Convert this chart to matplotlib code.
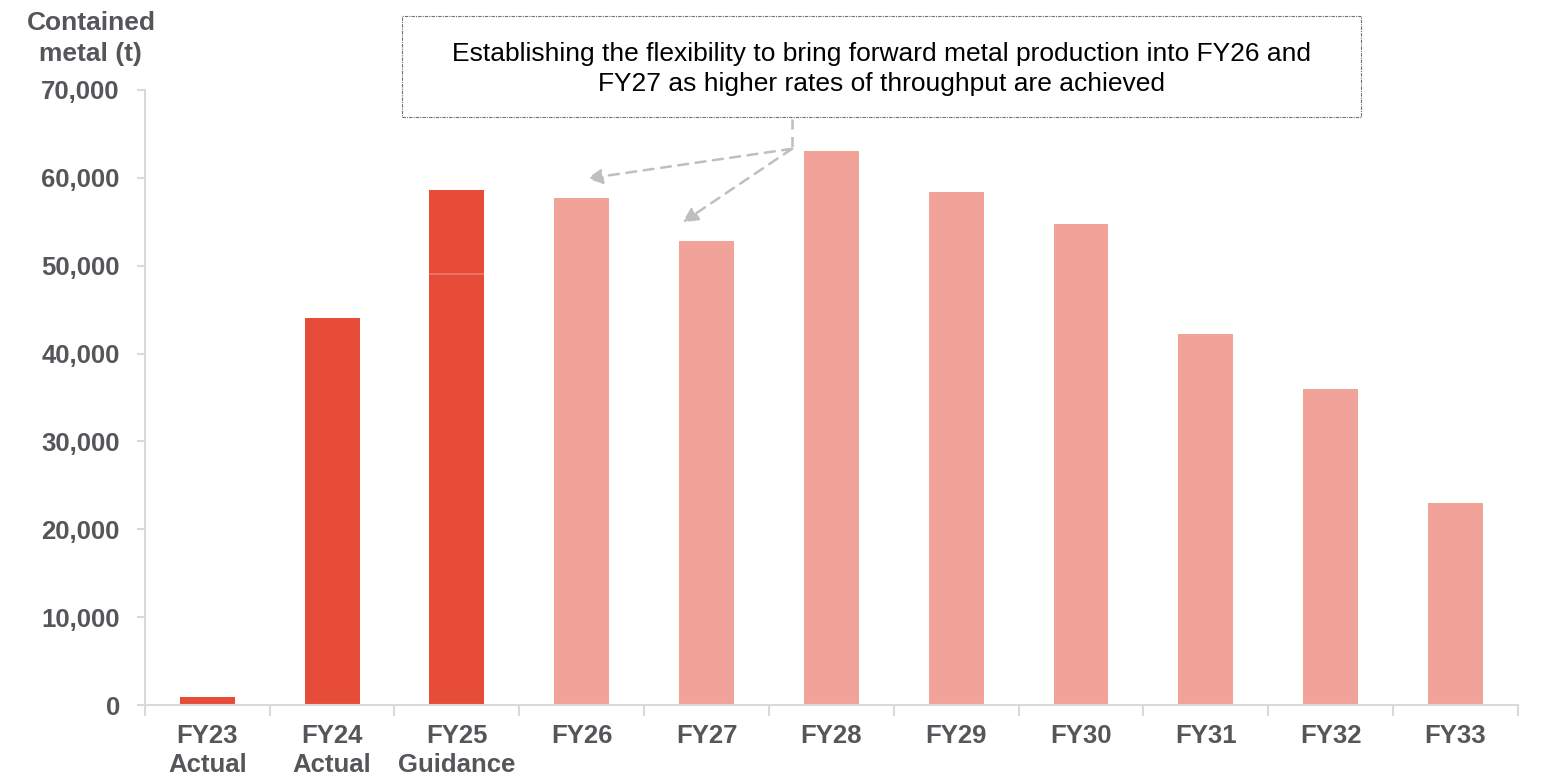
import matplotlib.pyplot as plt
from matplotlib.patches import FancyBboxPatch

plt.rcParams['font.family'] = ['Liberation Sans', 'DejaVu Sans']

years = ["FY23\nActual", "FY24\nActual", "FY25\nGuidance", "FY26", "FY27", "FY28",
         "FY29", "FY30", "FY31", "FY32", "FY33"]
actual = [900, 44000, 49000, 0, 0, 0, 0, 0, 0, 0, 0]
guidance_upside = [0, 0, 9600, 0, 0, 0, 0, 0, 0, 0, 0]
plan = [0, 0, 0, 57700, 52800, 63000, 58400, 54800, 42200, 36000, 23000]

dark_red = "#E64C38"
light_red = "#F2A399"
grey_text = "#55565A"
axis_grey = "#D9D9D9"

fig = plt.figure(figsize=(15.41, 7.83), dpi=100)
ax = fig.add_axes([0.094, 0.0996, 0.891, 0.7855])

x = list(range(len(years)))
w = 0.44
ax.bar(x, actual, width=w, color=dark_red, zorder=2)
ax.bar(x, guidance_upside, width=w, bottom=actual, color=dark_red, zorder=2)
ax.bar(x, plan, width=w, color=light_red, zorder=2)
# thin divider between actual-to-date and guidance upside
for i, up in enumerate(guidance_upside):
    if up:
        ax.hlines(actual[i], i - w / 2, i + w / 2, color="#EE7A6A", linewidth=1.2, zorder=3)

ax.set_xlim(-0.5, 10.5)
ax.set_ylim(0, 70000)
ax.set_yticks(range(0, 70001, 10000))
ax.set_yticklabels([f"{v:,}" for v in range(0, 70001, 10000)])
ax.set_xticks(x)
ax.set_xticklabels(years, linespacing=1.25)
ax.set_xticks([i - 0.5 for i in range(12)], minor=True)

for s in ["top", "right"]:
    ax.spines[s].set_visible(False)
for s in ["left", "bottom"]:
    ax.spines[s].set_color(axis_grey)
    ax.spines[s].set_linewidth(1.5)

ax.tick_params(axis="y", colors=axis_grey, length=6, width=1.5, pad=12,
               labelcolor=grey_text, labelsize=18.5)
ax.tick_params(axis="x", which="major", length=0, pad=14,
               labelcolor=grey_text, labelsize=18.5)
ax.tick_params(axis="x", which="minor", colors=axis_grey, length=8, width=1.5)
for lbl in ax.get_xticklabels() + ax.get_yticklabels():
    lbl.set_fontweight("bold")

fig.text(0.059, 0.951, "Contained\nmetal (t)", ha="center", va="center",
         fontsize=19, fontweight="bold", color=grey_text, linespacing=1.4)

# callout box
box = FancyBboxPatch((0.261, 0.85), 0.622, 0.13, boxstyle="square,pad=0",
                     transform=fig.transFigure, facecolor="white",
                     edgecolor="#6F6F6F", linestyle=(0, (3, 1, 1, 1)),
                     linewidth=0.8)
fig.patches.append(box)
fig.text(0.572, 0.912,
         "Establishing the flexibility to bring forward metal production into FY26 and\n"
         "FY27 as higher rates of throughput are achieved",
         ha="center", va="center", fontsize=19, color="black", linespacing=1.35)

# arrows from the callout to FY26 and FY27
origin = (0.514, 0.81)
fig.add_artist(plt.Line2D([0.514, 0.514], [0.848, 0.81], transform=fig.transFigure,
                          color="#BFBFBF", linestyle=(0, (4, 3)), linewidth=1.8))
for tgt in [(0.381, 0.772), (0.443, 0.716)]:
    ax.annotate("", xy=tgt, xycoords="figure fraction", xytext=origin,
                textcoords="figure fraction",
                arrowprops=dict(arrowstyle="-|>,head_length=0.9,head_width=0.45",
                                color="#BFBFBF", linestyle=(0, (4, 3)), linewidth=1.8,
                                shrinkA=0, shrinkB=0))

fig.savefig("out.png", dpi=100)
